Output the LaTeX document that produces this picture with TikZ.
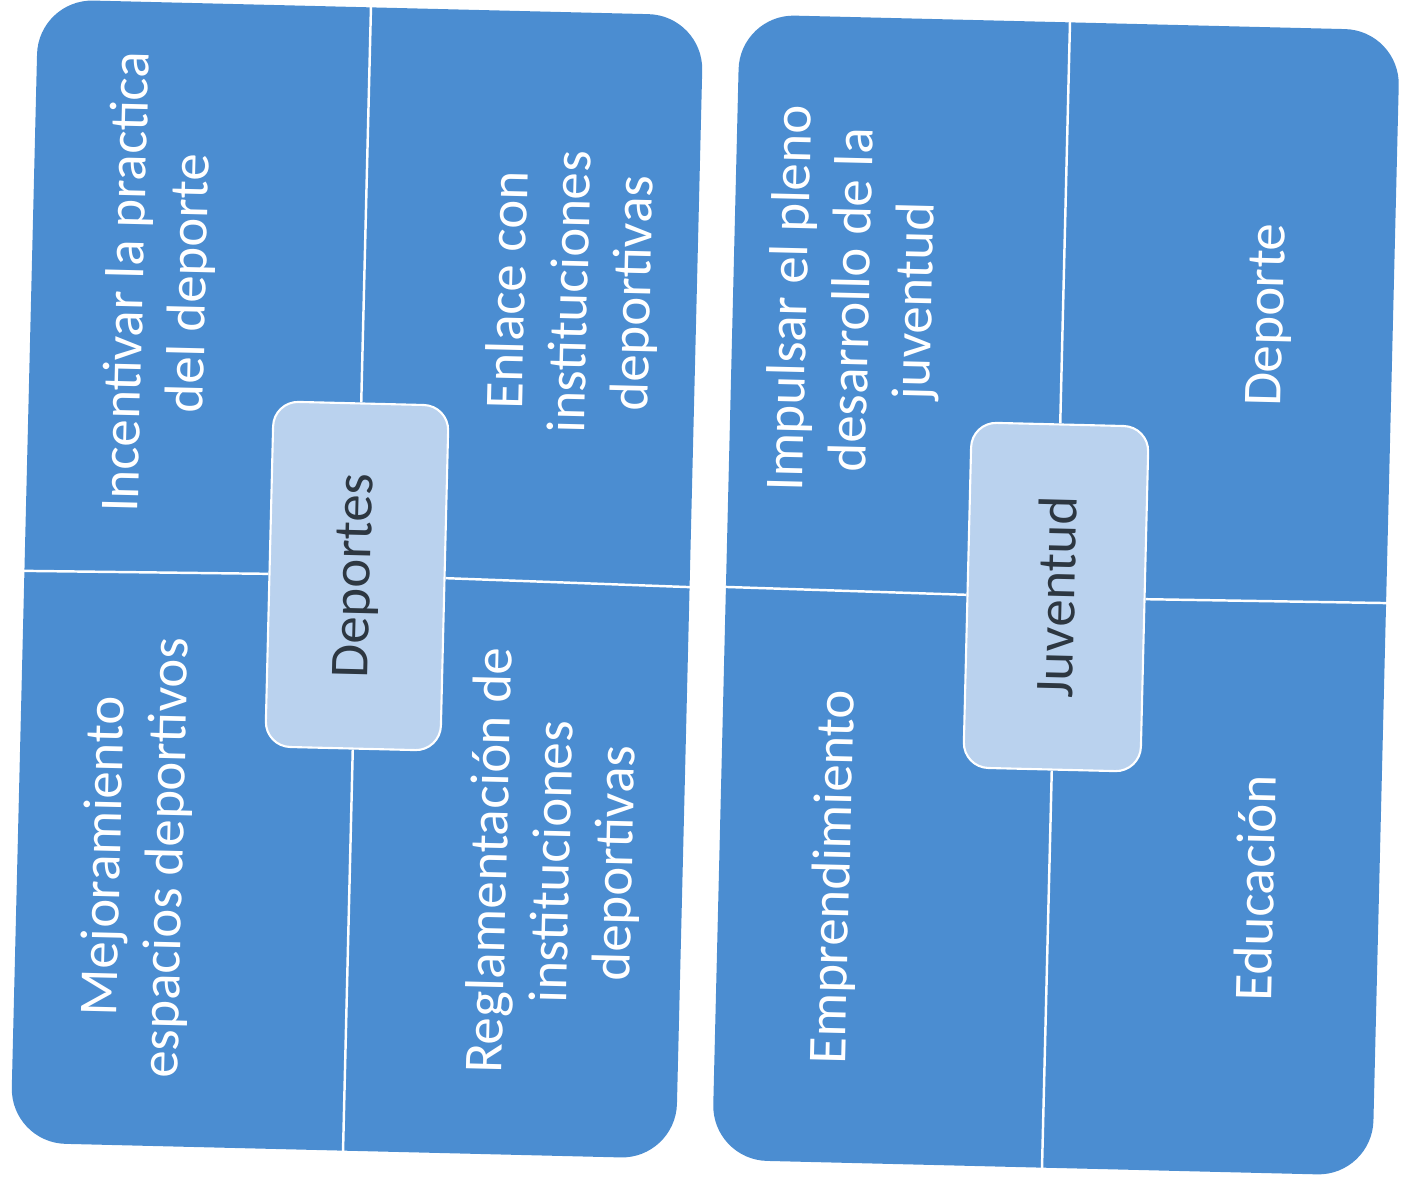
\documentclass[tikz,border=0pt]{standalone}
\usepackage{fontspec}
\setmainfont{Carlito}
\definecolor{panelblue}{RGB}{75,141,209}
\definecolor{hubfill}{RGB}{186,210,238}
\definecolor{hubtext}{RGB}{45,55,65}
\begin{document}
\begin{tikzpicture}[x=0.01cm,y=-0.01cm]
\tikzset{
 panel/.style={draw=none, fill=panelblue, rounded corners=0.55cm, rotate=-1.4, minimum width=6.65cm, minimum height=11.43cm, inner sep=0pt},
 hub/.style={draw=white, line width=0.6pt, fill=hubfill, rounded corners=0.25cm, rotate=88.6, minimum width=3.45cm, minimum height=1.75cm, inner sep=0pt, text=hubtext, font=\fontsize{15.6}{18}\selectfont},
 leaf/.style={text=white, align=center, rotate=88.6, font=\fontsize{15.6}{17.8}\selectfont, inner sep=0pt},
 divider/.style={draw=white, line width=0.7pt},
}
\useasboundingbox (0,0) rectangle (1403,1188);
% left panel
\node[panel] (P1) at (357,579) {};
\node[hub] (H1) at (357,576) {Deportes};
\draw[divider] (P1.north) -- (H1.east);
\draw[divider] (H1.west) -- (P1.south);
\draw[divider] (P1.west) -- (H1.north);
\draw[divider] (H1.south) -- (P1.east);
\node[leaf] (L1) at (160,283) {Incentivar la practica\\del deporte};
\node[leaf] (L2) at (573,292) {Enlace con\\instituciones\\deportivas};
\node[leaf] (L3) at (137,857) {Mejoramiento\\espacios deportivos};
\node[leaf] (L4) at (555,862) {Reglamentación de\\instituciones\\deportivas};
% right panel
\node[panel] (P2) at (1056,595) [minimum width=6.6cm, minimum height=11.45cm] {};
\node[hub] (H2) at (1056,597) [minimum width=3.45cm, minimum height=1.77cm] {Juventud};
\draw[divider] (P2.north) -- (H2.east);
\draw[divider] (H2.west) -- (P2.south);
\draw[divider] (P2.west) -- (H2.north);
\draw[divider] (H2.south) -- (P2.east);
\node[leaf] (R1) at (855,300) {Impulsar el pleno\\desarrollo de la\\juventud};
\node[leaf] (R2) at (1270,315) {Deporte};
\node[leaf] (R3) at (835,877) {Emprendimiento};
\node[leaf] (R4) at (1255,888) {Educación};
\end{tikzpicture}
\end{document}
